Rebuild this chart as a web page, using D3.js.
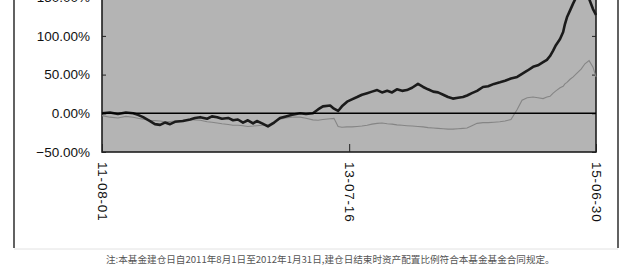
<!DOCTYPE html>
<html>
<head>
<meta charset="utf-8">
<script src="https://cdn.jsdelivr.net/npm/d3@7"></script>
<style>
  body { margin: 0; background: #fff; }
  svg { display: block; }
</style>
</head>
<body>
<svg id="chart" width="629" height="265"></svg>
<script>
// Dates (yyyy-mm-dd) shared by both series
const dates = [
  "2011-08-01","2011-08-24","2011-09-16","2011-10-09","2011-10-30","2011-11-13","2011-11-28","2011-12-18",
  "2012-01-01","2012-01-16","2012-01-30","2012-02-14","2012-02-28","2012-03-22","2012-04-12","2012-04-26",
  "2012-05-11","2012-05-31","2012-06-14","2012-06-29","2012-07-13","2012-07-31","2012-08-14","2012-08-28",
  "2012-09-12","2012-09-26","2012-10-11","2012-10-22","2012-11-06","2012-11-23","2012-12-11","2012-12-28",
  "2013-01-14","2013-02-01","2013-02-24","2013-03-13","2013-04-02","2013-04-17","2013-05-01","2013-05-22",
  "2013-06-02","2013-06-14","2013-06-25","2013-07-10","2013-07-24","2013-08-08","2013-08-22","2013-09-06",
  "2013-09-20","2013-10-05","2013-10-19","2013-11-03","2013-11-17","2013-12-01","2013-12-16","2013-12-30",
  "2014-01-14","2014-01-31","2014-02-15","2014-03-01","2014-03-16","2014-03-30","2014-04-14","2014-04-28",
  "2014-05-12","2014-05-27","2014-06-10","2014-06-22","2014-07-06","2014-07-21","2014-08-07","2014-08-22",
  "2014-09-08","2014-09-25","2014-10-10","2014-10-27","2014-11-14","2014-11-28","2014-12-13","2014-12-30",
  "2015-01-13","2015-01-28","2015-02-08","2015-02-17","2015-02-26","2015-03-06","2015-03-18","2015-03-27",
  "2015-04-01","2015-04-07","2015-04-16","2015-04-25","2015-05-06","2015-05-18","2015-05-29","2015-06-10",
  "2015-06-21","2015-06-30"
];

// Fund cumulative NAV growth (%)
const fundValues = [
  0, 1, -1, 1, 0, -2, -5, -10,
  -14, -15, -12, -14, -11, -10, -8, -6,
  -5, -7, -4, -5, -7, -6, -9, -8,
  -12, -9, -13, -10, -13, -17, -12, -6,
  -4, -2, 0, -1, 0, 5, 9, 10,
  6, 3, 9, 15, 18, 21, 24, 26,
  28, 30, 27, 29, 27, 31, 29, 30,
  33, 38, 34, 31, 28, 27, 24, 21,
  19, 20, 21, 23, 26, 29, 34, 35,
  38, 40, 42, 45, 47, 51, 55, 60,
  62, 66, 69, 74, 81, 88, 96, 105,
  115, 124, 133, 142, 152, 160, 163, 148,
  135, 127
];

// Benchmark cumulative growth (%)
const benchValues = [
  -3, -5, -6, -4, -5, -6.5, -7.5, -9,
  -9.5, -10, -11, -10.5, -10, -9, -8, -8.5,
  -9, -11, -11.5, -12.5, -13.5, -14.5, -15.5, -15.5,
  -16, -17, -16.5, -16, -15.5, -15, -11, -7.5,
  -6, -5, -5, -6.5, -8.5, -9, -8, -7,
  -6.5, -17, -18, -17.5, -17.5, -17, -16.5, -15.5,
  -14, -13, -12.5, -13.5, -14, -15, -15.5, -16,
  -16.5, -17, -17.5, -18.5, -19, -19.5, -20, -20.5,
  -20.5, -20, -19.5, -19, -16, -13, -12, -12,
  -11.5, -11, -10, -8, 5, 17, 20, 21,
  20, 19, 21, 22, 26, 29, 33, 35,
  38, 40, 44, 47, 52, 57, 64, 68,
  60, 47
];

const yTicks = [-50, 0, 50, 100, 150];
const xTickDates = ["2011-08-01", "2013-07-16", "2015-06-30"];
const xTickLabels = ["11-08-01", "13-07-16", "15-06-30"];
const note = "注:本基金建仓日自2011年8月1日至2012年1月31日,建仓日结束时资产配置比例符合本基金基金合同规定。";

const parse = d3.timeParse("%Y-%m-%d");
const svg = d3.select("#chart");

// plot area (top runs above the visible window)
const plot = {left: 102, right: 596, bottom: 152};

const x = d3.scaleTime()
  .domain([parse(dates[0]), parse(dates[dates.length - 1])])
  .range([plot.left, plot.right]);
const y = d3.scaleLinear().domain([-50, 200]).range([plot.bottom, plot.bottom - 250 * 0.774]);

// outer frame
svg.append("line").attr("x1", 14).attr("x2", 14).attr("y1", -5).attr("y2", 248)
  .attr("stroke", "#3a3a3a").attr("stroke-width", 1.6);
svg.append("line").attr("x1", 618).attr("x2", 618).attr("y1", -5).attr("y2", 248)
  .attr("stroke", "#3a3a3a").attr("stroke-width", 1.6);
svg.append("line").attr("x1", 14).attr("x2", 618).attr("y1", 249).attr("y2", 249)
  .attr("stroke", "#e2e2e2").attr("stroke-width", 1);

// plot background
svg.append("rect")
  .attr("x", plot.left).attr("y", y(200))
  .attr("width", plot.right - plot.left).attr("height", plot.bottom - y(200))
  .attr("fill", "#b4b4b4").attr("stroke", "#1e1e1e").attr("stroke-width", 1.6);

// y axis labels + inner ticks
const yAxis = svg.append("g").attr("transform", `translate(${plot.left},0)`)
  .call(d3.axisLeft(y).tickValues(yTicks).tickSize(-4).tickPadding(12)
    .tickFormat(d => d3.format(".2f")(d) + "%"));
yAxis.select(".domain").remove();
yAxis.selectAll("line").attr("stroke", "#222");
yAxis.selectAll("text").attr("fill", "#111")
  .style("font-family", "'Liberation Sans', Arial, sans-serif").style("font-size", "13.5px");

const yRight = svg.append("g").attr("transform", `translate(${plot.right},0)`)
  .call(d3.axisRight(y).tickValues(yTicks).tickSize(-4).tickFormat(""));
yRight.select(".domain").remove();
yRight.selectAll("line").attr("stroke", "#222");

// x axis: inner ticks, rotated labels
const xAxis = svg.append("g").attr("transform", `translate(0,${plot.bottom})`)
  .call(d3.axisBottom(x).tickValues(xTickDates.map(parse)).tickSize(-8)
    .tickFormat((d, i) => xTickLabels[i]));
xAxis.select(".domain").remove();
xAxis.selectAll("line").attr("stroke", "#222");
xAxis.selectAll("text")
  .attr("transform", "rotate(90)")
  .attr("x", 10).attr("y", 0).attr("dy", "0.35em")
  .attr("text-anchor", "start")
  .attr("fill", "#111")
  .style("font-family", "'Liberation Sans', Arial, sans-serif").style("font-size", "13.5px")
  .style("letter-spacing", "0.8px");

// series
const line = d3.line()
  .x((d, i) => x(parse(dates[i])))
  .y(d => y(d));

svg.append("path").datum(benchValues)
  .attr("d", line).attr("fill", "none")
  .attr("stroke", "#858585").attr("stroke-width", 1.1);

svg.append("path").datum(fundValues)
  .attr("d", line).attr("fill", "none")
  .attr("stroke", "#1b1b1b").attr("stroke-width", 2.6).attr("stroke-linejoin", "round");

// zero line
svg.append("line")
  .attr("x1", plot.left).attr("x2", plot.right)
  .attr("y1", y(0)).attr("y2", y(0))
  .attr("stroke", "#000").attr("stroke-width", 1.6);

// footnote
svg.append("text")
  .attr("x", 106).attr("y", 263)
  .attr("fill", "#555")
  .style("font-family", "'Noto Sans CJK SC', sans-serif").style("font-size", "9.6px")
  .text(note);
</script>
</body>
</html>
